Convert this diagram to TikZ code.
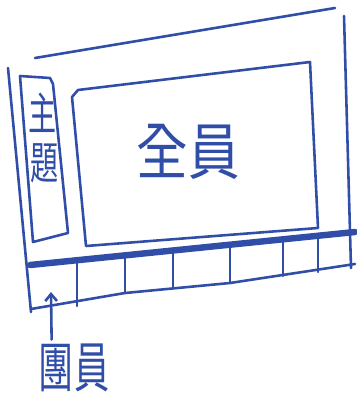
\documentclass[tikz,border=0pt]{standalone}
\usepackage{fontspec}
\newfontfamily\cjk{Noto Sans CJK TC}
\usetikzlibrary{positioning,arrows.meta}
\definecolor{penblue}{RGB}{48,78,168}
\tikzset{
  pen/.style={penblue, line width=2.2pt, line cap=round, line join=round},
  band/.style={penblue, line width=5.5pt, line cap=round},
  hand/.style={text=penblue, inner sep=0pt}
}

\begin{document}
\begin{tikzpicture}[>={Straight Barb[length=6pt,width=10pt]}, x=0.03cm, y=-0.03cm]
\useasboundingbox (0,0) rectangle (356,395);
% outer frame
\draw[pen] (35,58) -- (335,8);
\draw[pen] (344,16) -- (351,268);
\draw[pen] (8,68) -- (31,312);
% title column
\draw[pen] (20,76) -- (50,78) -- (53,84) -- (68,233) -- (33,242) -- cycle;
\node[hand, font=\cjk\fontsize{24}{24}\selectfont, yscale=1.6] (zhu) at (43,113) {主};
\node[hand, font=\cjk\fontsize{24}{24}\selectfont, yscale=1.6] (ti) at (45,163) {題};
% main box
\draw[pen] (72,97) -- (78,90) -- (310,62) -- (318,228) -- (86,246) -- cycle;
\node[hand, font=\cjk\fontsize{44}{44}\selectfont, yscale=1.2] (quanyuan) at (188,152) {全員};
% member strip
\draw[band] (30,265) -- (355,232);
\draw[pen] (31,309) -- (125,293) -- (230,283) -- (355,264);
\foreach \x/\ya/\yb in {77/262/306, 125/257/293, 173/252/288, 230/247/283, 283/241/276, 318/238/272}
  \draw[pen] (\x,\ya) -- (\x,\yb);
% label + arrow
\node[hand, font=\cjk\fontsize{30}{30}\selectfont, yscale=1.55] (tuanyuan) at (74,368) {團員};
\coordinate (box1) at (51,292);
\draw[pen, ->] (tuanyuan.north west) ++(13,-4) -- (box1);
\end{tikzpicture}
\end{document}
